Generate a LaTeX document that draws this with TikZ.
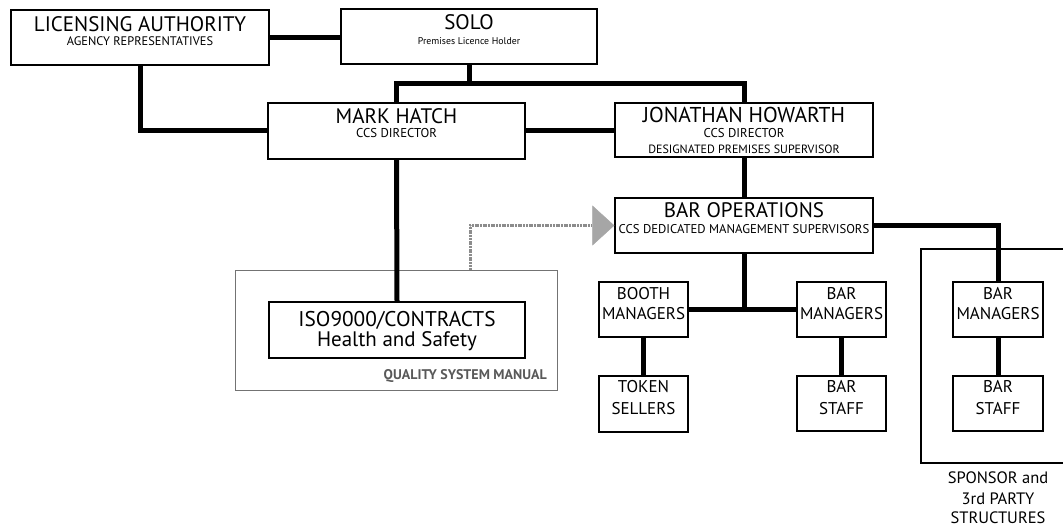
\documentclass[tikz,border=0pt]{standalone}
\usepackage{fontspec}
\setmainfont{PT Sans}
\usetikzlibrary{arrows.meta}
\newcommand{\bxx}[3]{\parbox[c][#2][t]{#1}{\centering\parskip=0pt #3}}
\newcommand{\firstl}[3]{{\fontsize{#2}{#2}\selectfont\rule{0pt}{#1}\makebox[0pt]{#3}\par}}
\newcommand{\nextl}[3]{{\fontsize{#1}{#2}\selectfont\makebox[0pt]{#3}\par}}
\begin{document}
\begin{tikzpicture}[x=1pt,y=-1pt,
  box/.style={draw, line width=1.3pt, inner sep=0pt, fill=white},
  conn/.style={line width=5pt, line join=miter},
  frame/.style={draw=black!55, line width=0.9pt, inner sep=0pt},
  qarrow/.style={draw=black!45, line width=3pt, dash pattern=on 2pt off 0.7pt,
    -{Triangle[length=22pt,width=40pt,fill=black!35,color=black!35,line width=0.5pt]}},
  ]
\useasboundingbox[fill=white] (0,0) rectangle (1063,526);

% top level
\node[box] (la) at (140,37.5) {\bxx{258pt}{55pt}{\firstl{22pt}{21}{LICENSING AUTHORITY}\nextl{12.4}{14}{AGENCY REPRESENTATIVES}}};
\node[box] (solo) at (469,36.5) {\bxx{256pt}{55pt}{\firstl{21pt}{21}{SOLO}\nextl{9.8}{15}{Premises Licence Holder}}};
\node[box] (mh) at (396.5,131) {\bxx{257pt}{56pt}{\firstl{21pt}{21}{MARK HATCH}\nextl{12.8}{14}{CCS DIRECTOR}}};
\node[box] (jh) at (744,130) {\bxx{258pt}{54pt}{\firstl{20pt}{21.5}{JONATHAN HOWARTH}\nextl{12.8}{15}{CCS DIRECTOR}\nextl{12}{16}{DESIGNATED PREMISES SUPERVISOR}}};
\node[box] (ops) at (744,225.5) {\bxx{258pt}{55pt}{\firstl{20pt}{21}{BAR OPERATIONS}\nextl{12.7}{16}{CCS DEDICATED MANAGEMENT SUPERVISORS}}};

% quality system
\node[frame, minimum width=322pt, minimum height=120pt] (qsm) at (396,330) {};
\node[box] (iso) at (397,330) {\bxx{256pt}{56pt}{\firstl{25pt}{21.3}{ISO9000/CONTRACTS}\nextl{21}{20}{Health and Safety}}};
\node[anchor=base east, text=black!65, font=\bfseries\fontsize{14}{14}\selectfont, inner sep=0pt] (qsml) at (547,380) {QUALITY SYSTEM MANUAL};

% lower boxes
\node[box] (booth) at (643.5,309.5) {\bxx{89pt}{55pt}{\firstl{18pt}{17}{BOOTH}\nextl{17}{20}{MANAGERS}}};
\node[box] (token) at (643.5,404) {\bxx{89pt}{56pt}{\firstl{17pt}{17}{TOKEN}\nextl{17}{22}{SELLERS}}};
\node[box] (bm2) at (841.5,309.5) {\bxx{89pt}{55pt}{\firstl{18pt}{17}{BAR}\nextl{17}{20}{MANAGERS}}};
\node[box] (bs2) at (841.5,403.5) {\bxx{89pt}{55pt}{\firstl{17pt}{17}{BAR}\nextl{17}{22}{STAFF}}};
\node[box] (bm3) at (998,309.5) {\bxx{90pt}{55pt}{\firstl{18pt}{17}{BAR}\nextl{17}{20}{MANAGERS}}};
\node[box] (bs3) at (998,403.5) {\bxx{90pt}{55pt}{\firstl{17pt}{17}{BAR}\nextl{17}{22}{STAFF}}};

% sponsor frame
\draw[line width=1.2pt] (1063,249) -| (921,463) -- (1063,463);
\node[inner sep=0pt, anchor=north] (sp) at (998,463) {\bxx{140pt}{62pt}{\firstl{20pt}{16.5}{SPONSOR and}\nextl{16.5}{21}{3rd PARTY}\nextl{16.5}{19}{STRUCTURES}}};

% connectors
\coordinate (bus) at (469,84);
\coordinate (bus2) at (744,309.5);
\draw[conn] (la.east) -- (la.east -| solo.west);
\draw[conn] (la.south) |- (mh.west);
\draw[conn] (solo.south) -- (bus);
\draw[conn] (mh.north) |- (bus) -| (jh.north);
\draw[conn] (mh.east) -- (mh.east -| jh.west);
\draw[conn] (jh.south) -- (ops.north);
\draw[conn] (ops.south) -- (bus2);
\draw[conn] (booth.east) -- (bm2.west);
\draw[conn] (booth.south) -- (token.north);
\draw[conn] (bm2.south) -- (bs2.north);
\draw[conn] (ops.east) -| (bm3.north);
\draw[conn] (bm3.south) -- (bs3.north);
\draw[conn] (mh.south) -- (iso.north);
\draw[qarrow] ([xshift=74pt]qsm.north) |- (ops.west);
\end{tikzpicture}
\end{document}
